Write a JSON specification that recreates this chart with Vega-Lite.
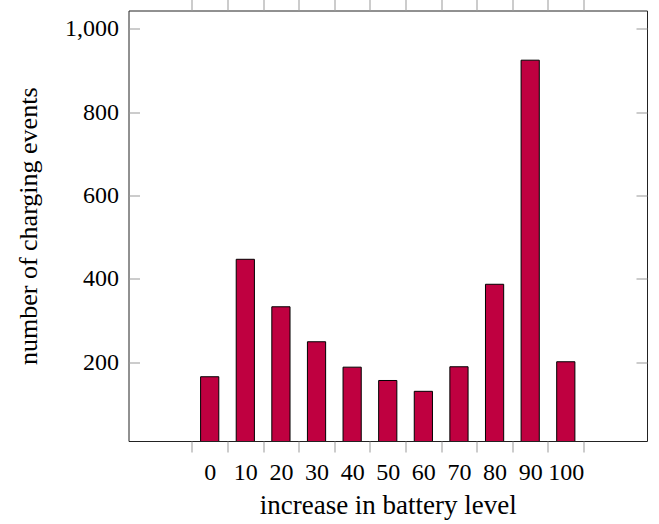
{
  "$schema": "https://vega.github.io/schema/vega-lite/v6.json",
  "width": 518.5,
  "height": 430.5,
  "autosize": {"type": "none"},
  "padding": {"left": 128.5, "top": 10.5, "right": 12, "bottom": 83},
  "config": {
    "view": {"stroke": "#222", "strokeWidth": 1},
    "axis": {
      "labelFont": "Liberation Serif",
      "titleFont": "Liberation Serif",
      "labelFontSize": 24,
      "titleFontSize": 26,
      "titleFontWeight": "normal",
      "labelColor": "#000",
      "titleColor": "#000",
      "tickColor": "#999",
      "tickWidth": 1,
      "domain": false,
      "grid": false,
      "labelFlush": false,
      "labelOverlap": false
    }
  },
  "data": {
    "values": [
      {"level": 0, "count": 165},
      {"level": 10, "count": 447},
      {"level": 20, "count": 333},
      {"level": 30, "count": 249},
      {"level": 40, "count": 188},
      {"level": 50, "count": 156},
      {"level": 60, "count": 130},
      {"level": 70, "count": 189},
      {"level": 80, "count": 387},
      {"level": 90, "count": 925},
      {"level": 100, "count": 201}
    ]
  },
  "layer": [
    {
      "mark": {"type": "bar", "width": 18.2, "fill": "#BF0040", "stroke": "#000", "strokeWidth": 1, "clip": true},
      "encoding": {
        "x": {"field": "level", "type": "quantitative", "scale": {"domain": [-21.4, 121.4], "nice": false, "zero": false},
          "axis": {"orient": "bottom", "values": [-5, 5, 15, 25, 35, 45, 55, 65, 75, 85, 95, 105], "labels": false, "tickSize": 11, "title": null}},
        "y": {"field": "count", "type": "quantitative", "scale": {"domain": [10.75, 1044.25], "nice": false, "zero": false},
          "axis": {"orient": "left", "values": [200, 400, 600, 800, 1000], "labels": false, "tickSize": -11, "title": null}}
      }
    },
    {
      "mark": {"type": "point", "opacity": 0},
      "encoding": {
        "x": {"field": "level", "type": "quantitative",
          "axis": {"orient": "bottom", "values": [0, 10, 20, 30, 40, 50, 60, 70, 80, 90, 100], "ticks": false, "labelPadding": 19, "title": "increase in battery level", "titleFontSize": 27, "titlePadding": 8}},
        "y": {"field": "count", "type": "quantitative",
          "axis": {"orient": "left", "values": [200, 400, 600, 800, 1000], "ticks": false, "labelPadding": 10, "format": ",d", "title": "number of charging events", "titlePadding": 23}}
      }
    },
    {
      "mark": {"type": "point", "opacity": 0},
      "encoding": {
        "x": {"field": "level", "type": "quantitative",
          "axis": {"orient": "top", "values": [-5, 5, 15, 25, 35, 45, 55, 65, 75, 85, 95, 105], "labels": false, "tickSize": 11, "title": null}},
        "y": {"field": "count", "type": "quantitative",
          "axis": {"orient": "right", "values": [200, 400, 600, 800, 1000], "labels": false, "tickSize": -11, "title": null}}
      }
    }
  ],
  "resolve": {"axis": {"x": "independent", "y": "independent"}}
}
